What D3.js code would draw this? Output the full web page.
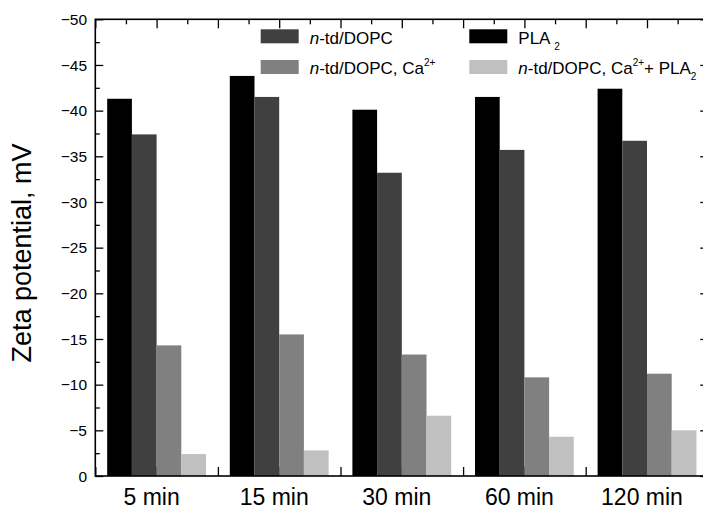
<!DOCTYPE html>
<html>
<head>
<meta charset="utf-8">
<script src="https://cdn.jsdelivr.net/npm/d3@7"></script>
<style>
  html, body { margin: 0; padding: 0; background: #fff; }
  svg { display: block; font-family: "Liberation Sans", Arial, sans-serif; }
</style>
</head>
<body>
<svg id="chart" width="703" height="509"></svg>
<script>
// ---- data ----
const categories = ["5 min", "15 min", "30 min", "60 min", "120 min"];
const seriesNames = ["PLA2", "ntd", "ntdCa", "ntdCaPLA"];
const pla2      = [-41.3, -43.8, -40.1, -41.5, -42.4];
const ntdDOPC   = [-37.4, -41.5, -33.2, -35.7, -36.7];
const ntdCa     = [-14.3, -15.5, -13.3, -10.8, -11.2];
const ntdCaPLA  = [-2.4, -2.8, -6.6, -4.3, -5.0];
const seriesValues = [pla2, ntdDOPC, ntdCa, ntdCaPLA];
const seriesColors = ["#000000", "#404040", "#808080", "#c0c0c0"];
const yTicks = [0, -5, -10, -15, -20, -25, -30, -35, -40, -45, -50];

// ---- layout ----
const pLeft = 95.3, pRight = 708.3, pTop = 19.3, pBottom = 476;
const svg = d3.select("#chart");

const x0 = d3.scaleBand().domain(categories).range([pLeft, pRight])
  .paddingInner(0.194).paddingOuter(0.097);
const x1 = d3.scaleBand().domain(seriesNames).range([0, x0.bandwidth()]).padding(0);
const y = d3.scaleLinear().domain([0, -50]).range([pBottom, pTop]);

// axis ticks (inward) drawn first so bars cover bottom ticks
const g = svg.append("g");
const minorY = d3.range(0, -50.01, -2.5).filter(v => v % 5 !== 0);
// left axis
g.append("g").attr("transform", `translate(${pLeft},0)`)
  .call(d3.axisRight(y).tickValues(minorY).tickSize(4.5).tickFormat(""))
  .call(a => a.select(".domain").remove());
g.append("g").attr("transform", `translate(${pLeft},0)`)
  .call(d3.axisRight(y).tickValues(yTicks).tickSize(8).tickFormat(""))
  .call(a => a.select(".domain").remove());
// right axis
g.append("g").attr("transform", `translate(${pRight},0)`)
  .call(d3.axisLeft(y).tickValues(minorY).tickSize(4.5).tickFormat(""))
  .call(a => a.select(".domain").remove());
g.append("g").attr("transform", `translate(${pRight},0)`)
  .call(d3.axisLeft(y).tickValues(yTicks).tickSize(8).tickFormat(""))
  .call(a => a.select(".domain").remove());

// top/bottom tick positions via a linear scale over half-band units
const xt = d3.scaleLinear().domain([0, categories.length * 2]).range([pLeft, pRight]);
const majorX = d3.range(0, categories.length * 2 + 1);
const minorX = d3.range(0.5, categories.length * 2, 1);
g.append("g").attr("transform", `translate(0,${pTop})`)
  .call(d3.axisBottom(xt).tickValues(majorX).tickSize(9).tickFormat(""))
  .call(a => a.select(".domain").remove());
g.append("g").attr("transform", `translate(0,${pTop})`)
  .call(d3.axisBottom(xt).tickValues(minorX).tickSize(5).tickFormat(""))
  .call(a => a.select(".domain").remove());
g.append("g").attr("transform", `translate(0,${pBottom})`)
  .call(d3.axisTop(xt).tickValues(majorX).tickSize(9).tickFormat(""))
  .call(a => a.select(".domain").remove());
g.append("g").attr("transform", `translate(0,${pBottom})`)
  .call(d3.axisTop(xt).tickValues(minorX).tickSize(5).tickFormat(""))
  .call(a => a.select(".domain").remove());
g.selectAll(".tick line").attr("stroke", "#000").attr("stroke-width", 1.3);

// bars
const groups = svg.append("g").selectAll("g").data(categories).join("g")
  .attr("transform", d => `translate(${x0(d)},0)`);
groups.selectAll("rect")
  .data((c, i) => seriesNames.map((s, k) => ({ s, k, v: seriesValues[k][i] })))
  .join("rect")
  .attr("x", d => x1(d.s))
  .attr("width", x1.bandwidth())
  .attr("y", d => y(d.v))
  .attr("height", d => y(0) - y(d.v))
  .attr("fill", d => seriesColors[d.k]);

// frame
svg.append("rect").attr("x", pLeft).attr("y", pTop)
  .attr("width", pRight - pLeft).attr("height", pBottom - pTop)
  .attr("fill", "none").attr("stroke", "#000").attr("stroke-width", 1.6);

// y tick labels
svg.append("g").selectAll("text").data(yTicks).join("text")
  .attr("x", 87).attr("y", d => y(d)).attr("dy", "0.36em")
  .attr("text-anchor", "end").attr("font-size", 15.5)
  .text(d => d3.format("d")(d));

// x tick labels
svg.append("g").selectAll("text").data(categories).join("text")
  .attr("x", d => x0(d) + x0.bandwidth() / 2 - 5).attr("y", 505)
  .attr("text-anchor", "middle").attr("font-size", 23)
  .text(d => d);

// y title
svg.append("text")
  .attr("transform", "translate(31,253) rotate(-90)")
  .attr("text-anchor", "middle").attr("font-size", 27)
  .text("Zeta potential, mV");

// legend
const legendX = [260.7, 469.3];
const legendY = [29.3, 60];
const legendOrder = [1, 0, 2, 3];
const lg = svg.append("g");
legendOrder.forEach((k, idx) => {
  const col = idx % 2, row = Math.floor(idx / 2);
  lg.append("rect").attr("x", legendX[col]).attr("y", legendY[row])
    .attr("width", 38).attr("height", 14).attr("fill", seriesColors[k]);
});
function ltext(col, row) {
  return lg.append("text").attr("x", legendX[col] + 49).attr("y", legendY[row] + 14.2)
    .attr("font-size", 17);
}
let t = ltext(0, 0);
t.append("tspan").attr("font-style", "italic").text("n");
t.append("tspan").text("-td/DOPC");
t = ltext(1, 0);
t.append("tspan").text("PLA ");
t.append("tspan").attr("font-size", 10).attr("dy", 6).text("2");
t = ltext(0, 1);
t.append("tspan").attr("font-style", "italic").text("n");
t.append("tspan").text("-td/DOPC, Ca");
t.append("tspan").attr("font-size", 10).attr("dy", -8).text("2+");
t = ltext(1, 1);
t.append("tspan").attr("font-style", "italic").text("n");
t.append("tspan").text("-td/DOPC, Ca");
t.append("tspan").attr("font-size", 10).attr("dy", -8).text("2+");
t.append("tspan").attr("dy", 8).text("+ PLA");
t.append("tspan").attr("font-size", 10).attr("dy", 6).text("2");
</script>
</body>
</html>
